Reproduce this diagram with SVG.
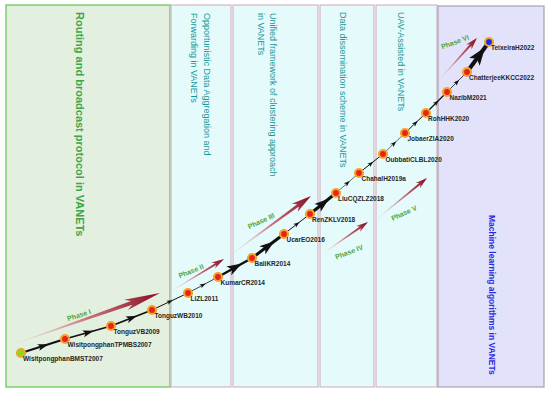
<svg xmlns="http://www.w3.org/2000/svg" width="550" height="393" viewBox="0 0 550 393">
<style>
.ptext{font-family:"Liberation Sans",Arial,sans-serif;font-size:9px;fill:#17999a}
.lbl{font-family:"Liberation Sans",Arial,sans-serif;font-size:6.5px;font-weight:bold;fill:#262626}
.ph{font-family:"Liberation Sans",Arial,sans-serif;font-size:7px;font-weight:bold;fill:#4ea43c;text-anchor:middle}
.edge{fill:none;stroke:#111}
.node{fill:#e8221b;stroke:#f3a52a;stroke-width:2.2}
.cyan{fill:#e5fafa;stroke:#d4b6c6;stroke-width:1.2}
.pharrow{fill:url(#phg)}
</style>
<defs>
<linearGradient id="phg" x1="0" y1="0" x2="1" y2="0">
<stop offset="0" stop-color="#f2c8d0" stop-opacity="0.3"/>
<stop offset="0.5" stop-color="#c05060" stop-opacity="0.8"/>
<stop offset="1" stop-color="#880a1e"/>
</linearGradient>
<marker id="aS" markerUnits="userSpaceOnUse" orient="auto" refX="3" refY="0" markerWidth="20" markerHeight="20" overflow="visible"><path d="M0,-2.2 L6,0 L0,2.2 L1.5,0 Z" fill="#111"/></marker>
<marker id="aM" markerUnits="userSpaceOnUse" orient="auto" refX="5" refY="0" markerWidth="20" markerHeight="20" overflow="visible"><path d="M0,-3.5 L11,0 L0,3.5 L2.5,0 Z" fill="#111"/></marker>
<marker id="aL" markerUnits="userSpaceOnUse" orient="auto" refX="7" refY="0" markerWidth="30" markerHeight="30" overflow="visible"><path d="M0,-5 L15,0 L0,5 L3.5,0 Z" fill="#111"/></marker>
<marker id="aXL" markerUnits="userSpaceOnUse" orient="auto" refX="6" refY="0" markerWidth="30" markerHeight="30" overflow="visible"><path d="M0,-6.5 L18,0 L0,6.5 L4,0 Z" fill="#111"/></marker>
</defs>
<rect width="550" height="393" fill="#ffffff"/>
<g id="panels">
<g id="panel1"><rect x="6" y="5" width="164" height="382" fill="#e3efdf" stroke="#7ccf6e" stroke-width="1.5"/>
<text transform="translate(76,12) rotate(90)" style="font-family:'Liberation Sans',Arial,sans-serif;font-size:11px;font-weight:bold;fill:#3ea64a">Routing and  broadcast protocol in VANETs</text></g>
<g id="panel2"><rect class="cyan" x="171" y="5" width="60" height="382"/>
<text class="ptext" transform="translate(204,13) rotate(90)">Opportunistic Data Aggregation and</text>
<text class="ptext" transform="translate(191,13) rotate(90)">Forwarding in VANETs</text></g>
<g id="panel3"><rect class="cyan" x="233" y="5" width="85" height="382"/>
<text class="ptext" transform="translate(270,13) rotate(90)">Unified framework of clustering approach</text>
<text class="ptext" transform="translate(258,13) rotate(90)">in VANETs</text></g>
<g id="panel4"><rect class="cyan" x="320" y="5" width="54" height="382"/>
<text class="ptext" transform="translate(340,12) rotate(90)">Data dissemination scheme in VANETs</text></g>
<g id="panel5"><rect class="cyan" x="376" y="5" width="61" height="382"/>
<text class="ptext" transform="translate(398,12) rotate(90)">UAV-Assisted  in VANETs</text></g>
<g id="panel6"><rect x="438" y="6" width="106" height="381" fill="#e2e2fb" stroke="#a8a2ae" stroke-width="1.2"/>
<text transform="translate(489,215) rotate(90)" style="font-family:'Liberation Sans',Arial,sans-serif;font-size:8.5px;font-weight:bold;fill:#2a2ae0">Machine learning algorithms in VANETs</text></g>
</g>
<g id="phases">
<path class="pharrow" transform="translate(17,343) rotate(-19.3)" d="M0,-0.3 L121.5,-2 L115.5,-5.5 L151.5,0 L115.5,5.5 L121.5,2 L0,0.3 Z"/>
<path class="pharrow" transform="translate(173,290) rotate(-31.3)" d="M0,-0.3 L50,-1 L47,-3.5 L59.7,0 L47,3.5 L50,1 L0,0.3 Z"/>
<path class="pharrow" transform="translate(233,253) rotate(-36.2)" d="M0,-0.3 L80.6,-1.4 L76.6,-5 L96.6,0 L76.6,5 L80.6,1.4 L0,0.3 Z"/>
<path class="pharrow" transform="translate(325,252) rotate(-34.9)" d="M0,-0.3 L43,-1 L40.4,-3.4 L52.4,0 L40.4,3.4 L43,1 L0,0.3 Z"/>
<path class="pharrow" transform="translate(378,218) rotate(-39.2)" d="M0,-0.3 L54,-1 L51.3,-3.4 L63.3,0 L51.3,3.4 L54,1 L0,0.3 Z"/>
<path class="pharrow" transform="translate(440,79) rotate(-48)" d="M0,-0.3 L45.7,-1 L43.2,-3.6 L55.2,0 L43.2,3.6 L45.7,1 L0,0.3 Z"/>
<text class="ph" transform="translate(79,315) rotate(-18)" y="2.5">Phase I</text>
<text class="ph" transform="translate(191,271) rotate(-22)" y="2.5">Phase  II</text>
<text class="ph" transform="translate(261,221) rotate(-25)" y="2.5">Phase  III</text>
<text class="ph" transform="translate(349,252) rotate(-21)" y="2.5">Phase  IV</text>
<text class="ph" transform="translate(404,213) rotate(-25)" y="2.5">Phase  V</text>
<text class="ph" transform="translate(455,42) rotate(-20)" y="2.5">Phase  VI</text>
</g>
<g id="connectors">
<polyline class="edge" stroke-width="2" marker-mid="url(#aM)" points="21,353 43,346 65,339"/>
<polyline class="edge" stroke-width="1.8" marker-mid="url(#aM)" points="65,339 88,332.5 111,326"/>
<polyline class="edge" stroke-width="1.8" marker-mid="url(#aM)" points="111,326 131.5,318 152,310"/>
<polyline class="edge" stroke-width="1" marker-mid="url(#aS)" points="152,310 170,301.5 188,293"/>
<polyline class="edge" stroke-width="0.8" marker-mid="url(#aS)" points="188,293 203,285 218,277"/>
<polyline class="edge" stroke-width="2.5" marker-mid="url(#aL)" points="218,277 235,267.5 252,258"/>
<polyline class="edge" stroke-width="3" marker-mid="url(#aL)" points="252,258 268,246 284,234"/>
<polyline class="edge" stroke-width="1" marker-mid="url(#aS)" points="284,234 297,224 310,214"/>
<polyline class="edge" stroke-width="3" marker-mid="url(#aL)" points="310,214 323,203.5 336,193"/>
<polyline class="edge" stroke-width="0.6" marker-mid="url(#aS)" points="336,193 347.5,183 359,173"/>
<polyline class="edge" stroke-width="1" marker-mid="url(#aS)" points="359,173 371,163.5 383,154"/>
<polyline class="edge" stroke-width="0.6" marker-mid="url(#aS)" points="383,154 394,143.5 405,133"/>
<polyline class="edge" stroke-width="1" marker-mid="url(#aS)" points="405,133 415.5,123 426,113"/>
<polyline class="edge" stroke-width="1.2" marker-mid="url(#aS)" points="426,113 436.5,102.5 447,92"/>
<polyline class="edge" stroke-width="0.8" marker-mid="url(#aS)" points="447,92 457,82 467,72"/>
<polyline class="edge" stroke-width="4" marker-mid="url(#aXL)" points="467,72 478,57 489,42"/>
</g>
<g id="n1"><circle class="node" cx="21" cy="353" r="4" style="fill:#7ee01a"/><text class="lbl" x="23" y="361">WisitpongphanBMST2007</text></g>
<g id="n2"><circle class="node" cx="65" cy="339" r="4"/><text class="lbl" x="67.5" y="347">WisitpongphanTPMBS2007</text></g>
<g id="n3"><circle class="node" cx="111" cy="326" r="4"/><text class="lbl" x="113.5" y="334">TonguzVB2009</text></g>
<g id="n4"><circle class="node" cx="152" cy="310" r="4"/><text class="lbl" x="154.5" y="318">TonguzWB2010</text></g>
<g id="n5"><circle class="node" cx="188" cy="293" r="4"/><text class="lbl" x="190.5" y="301">LiZL2011</text></g>
<g id="n6"><circle class="node" cx="218" cy="277" r="4"/><text class="lbl" x="220.5" y="285">KumarCR2014</text></g>
<g id="n7"><circle class="node" cx="252" cy="258" r="4"/><text class="lbl" x="254.5" y="266">BaliKR2014</text></g>
<g id="n8"><circle class="node" cx="284" cy="234" r="4"/><text class="lbl" x="286.5" y="242">UcarEO2016</text></g>
<g id="n9"><circle class="node" cx="310" cy="214" r="4"/><text class="lbl" x="312" y="222">RenZKLV2018</text></g>
<g id="n10"><circle class="node" cx="336" cy="193" r="4"/><text class="lbl" x="338" y="200.5">LiuCQZLZ2018</text></g>
<g id="n11"><circle class="node" cx="359" cy="173" r="4"/><text class="lbl" x="361.5" y="180.5">ChahalH2019a</text></g>
<g id="n12"><circle class="node" cx="383" cy="154" r="4"/><text class="lbl" x="385.5" y="162">OubbatiCLBL2020</text></g>
<g id="n13"><circle class="node" cx="405" cy="133" r="4"/><text class="lbl" x="407.5" y="141">JobaerZIA2020</text></g>
<g id="n14"><circle class="node" cx="426" cy="113" r="4"/><text class="lbl" x="428" y="120.5">RohHHK2020</text></g>
<g id="n15"><circle class="node" cx="447" cy="92" r="4"/><text class="lbl" x="449.5" y="100">NazibM2021</text></g>
<g id="n16"><circle class="node" cx="467" cy="72" r="4"/><text class="lbl" x="469" y="79.5">ChatterjeeKKCC2022</text></g>
<g id="n17"><circle class="node" cx="489" cy="42" r="4" style="fill:#1a2ae8"/><text class="lbl" x="491" y="50">TeixeiraH2022</text></g>
</svg>
